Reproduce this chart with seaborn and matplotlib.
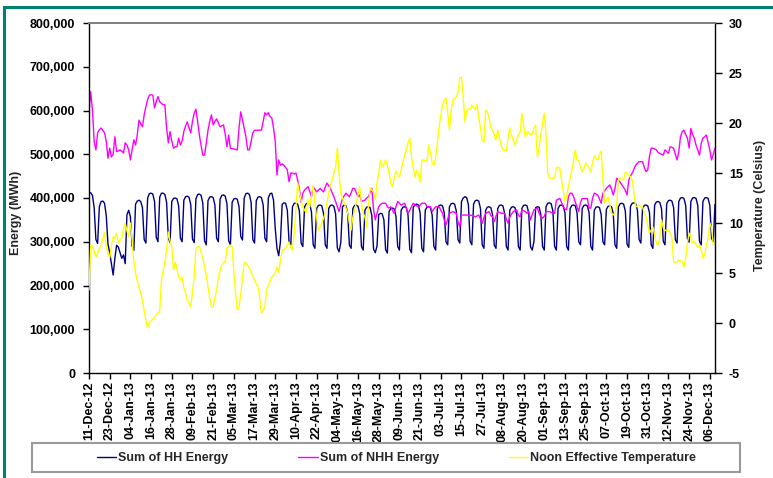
import numpy as np
import pandas as pd
import matplotlib
matplotlib.use("Agg")
import matplotlib.pyplot as plt
from matplotlib.patches import Rectangle
from matplotlib.lines import Line2D
from matplotlib.ticker import FuncFormatter, MultipleLocator
import seaborn as sns

# ---- daily data, 11-Dec-2012 onwards ----
start_date = "2012-12-11"

# Half-hourly metered energy, thousand MWh (rows are Mon..Sun weeks)
hh_energy_k = [
    413, 412, 406, 378, 305, 296,
    380, 392, 393, 388, 360, 295, 275,
    250, 224, 262, 292, 288, 275, 262,
    270, 250, 362, 372, 357, 290, 280,
    386, 393, 395, 392, 378, 305, 297,
    400, 410, 411, 409, 392, 310, 300,
    402, 411, 411, 408, 390, 308, 298,
    392, 399, 400, 398, 382, 308, 300,
    395, 403, 404, 402, 385, 306, 298,
    398, 408, 409, 406, 388, 302, 293,
    394, 402, 403, 401, 384, 308, 300,
    397, 406, 407, 404, 387, 302, 293,
    390, 398, 399, 397, 380, 312, 304,
    400, 410, 411, 408, 390, 305, 297,
    394, 402, 403, 401, 384, 308, 300,
    400, 410, 411, 395, 330, 285, 268,
    300, 385, 389, 388, 372, 300, 293,
    380, 388, 388, 386, 370, 297, 289,
    380, 387, 388, 386, 368, 293, 285,
    376, 383, 384, 382, 365, 293, 285,
    376, 383, 384, 381, 364, 286, 277,
    298, 380, 384, 382, 365, 292, 285,
    376, 383, 384, 381, 364, 289, 281,
    372, 379, 380, 378, 360, 283, 275,
    290, 362, 365, 364, 350, 282, 274,
    369, 376, 377, 375, 358, 289, 281,
    372, 379, 380, 378, 361, 283, 275,
    378, 385, 386, 384, 366, 285, 277,
    372, 379, 380, 378, 361, 289, 281,
    376, 383, 384, 382, 366, 300, 293,
    380, 387, 388, 386, 370, 305, 297,
    392, 400, 403, 401, 385, 301, 293,
    386, 394, 395, 393, 376, 293, 285,
    372, 379, 380, 378, 362, 292, 285,
    376, 383, 384, 382, 365, 289, 281,
    372, 379, 380, 378, 362, 289, 281,
    376, 383, 384, 382, 365, 289, 281,
    300, 378, 380, 379, 362, 289, 281,
    380, 388, 389, 387, 370, 289, 281,
    376, 383, 384, 382, 366, 289, 281,
    376, 383, 384, 382, 366, 300, 293,
    376, 383, 384, 382, 366, 289, 281,
    372, 379, 380, 378, 362, 300, 293,
    374, 381, 382, 380, 364, 293, 285,
    380, 387, 388, 386, 370, 295, 287,
    381, 388, 389, 387, 372, 305, 297,
    376, 383, 384, 382, 367, 293, 285,
    384, 391, 392, 390, 375, 301, 293,
    387, 394, 395, 393, 378, 305, 297,
    392, 400, 401, 399, 383, 307, 299,
    392, 400, 401, 399, 383, 301, 293,
    392, 400, 401, 399, 383, 308, 300,
    385,
]

# Non-half-hourly energy, thousand MWh
nhh_energy_k = [
    597, 643, 600, 529, 510, 549, 556, 560, 555, 549,
    530, 491, 514, 494, 500, 540, 506, 508, 510, 507,
    503, 526, 521, 510, 487, 510, 533, 521, 545, 578,
    570, 563, 590, 609, 625, 635, 636, 635, 606, 620,
    632, 620, 616, 613, 613, 560, 526, 552, 530, 514,
    517, 517, 537, 521, 530, 552, 565, 574, 560, 549,
    575, 594, 603, 575, 544, 520, 498, 498, 525, 555,
    575, 590, 567, 575, 581, 572, 563, 565, 567, 545,
    517, 544, 514, 513, 512, 511, 510, 560, 597, 578,
    560, 540, 510, 510, 530, 549, 555, 555, 555, 555,
    555, 575, 595, 590, 595, 586, 583, 560, 529, 453,
    487, 475, 478, 475, 470, 464, 437, 457, 457, 455,
    457, 441, 420, 390, 411, 418, 422, 426, 415, 403,
    426, 420, 414, 418, 422, 418, 414, 425, 434, 428,
    422, 412, 403, 392, 380, 369, 385, 399, 405, 411,
    407, 403, 412, 422, 422, 412, 403, 407, 392, 394,
    395, 400, 403, 412, 422, 373, 350, 365, 380, 385,
    388, 388, 388, 380, 377, 380, 372, 365, 380, 392,
    388, 384, 386, 388, 377, 365, 372, 380, 388, 384,
    382, 380, 384, 388, 388, 388, 380, 380, 380, 369,
    375, 380, 380, 380, 372, 365, 350, 338, 352, 365,
    367, 369, 367, 365, 345, 334, 361, 361, 361, 361,
    361, 361, 360, 359, 357, 359, 361, 352, 342, 355,
    365, 367, 369, 360, 357, 346, 358, 369, 367, 365,
    365, 365, 352, 342, 357, 363, 369, 371, 373, 360,
    357, 373, 371, 369, 365, 369, 350, 362, 373, 375,
    377, 365, 357, 354, 358, 369, 369, 369, 367, 365,
    365, 395, 397, 399, 390, 380, 375, 373, 403, 411,
    411, 403, 390, 380, 369, 390, 399, 399, 399, 399,
    377, 377, 400, 411, 409, 407, 398, 388, 411, 416,
    422, 426, 430, 420, 407, 422, 445, 441, 436, 430,
    424, 418, 407, 441, 450, 457, 466, 475, 479, 483,
    483, 483, 470, 460, 464, 495, 514, 514, 512, 510,
    504, 502, 500, 498, 510, 506, 502, 517, 516, 514,
    500, 487, 506, 540, 552, 555, 545, 537, 514, 559,
    545, 537, 521, 510, 498, 525, 537, 540, 544, 527,
    510, 487, 500, 514,
]

# Noon effective temperature, degrees Celsius
noon_temp_c = [
    3.3, 7.8, 7.7, 7.2, 6.6, 7.0, 7.4, 7.8, 8.4, 9.1,
    7.6, 7.0, 6.5, 7.8, 8.6, 8.5, 9.0, 8.0, 8.3, 8.5,
    9.4, 10.0, 9.2, 8.6, 10.0, 8.3, 6.2, 5.0, 4.2, 3.6,
    3.0, 2.3, 1.2, 0.3, -0.5, 0.1, 0.2, 0.4, 0.5, 0.8,
    1.0, 1.2, 4.3, 5.2, 6.1, 7.3, 9.1, 8.2, 7.6, 5.3,
    6.1, 5.4, 4.6, 4.3, 4.6, 3.5, 3.0, 2.3, 2.0, 1.6,
    3.0, 4.6, 7.5, 7.6, 7.7, 7.0, 6.5, 5.6, 4.8, 3.6,
    2.5, 1.6, 1.6, 2.5, 3.3, 4.6, 5.2, 5.8, 6.0, 6.1,
    7.5, 7.6, 7.8, 7.6, 5.0, 3.0, 1.3, 1.6, 2.9, 4.5,
    6.1, 6.0, 5.8, 5.5, 5.1, 4.7, 4.3, 3.9, 3.6, 2.5,
    1.0, 1.3, 1.6, 3.3, 3.8, 4.2, 4.6, 4.8, 5.0, 5.6,
    5.1, 6.2, 7.3, 7.3, 7.5, 7.8, 8.1, 7.5, 7.3, 9.0,
    11.5, 14.0, 13.0, 12.3, 11.6, 11.3, 11.0, 12.3, 11.6, 12.8,
    13.8, 12.0, 10.5, 9.3, 9.6, 10.0, 10.5, 11.0, 12.0, 13.0,
    13.8, 14.3, 15.0, 15.6, 17.5, 15.0, 13.0, 12.5, 12.0, 11.5,
    11.0, 10.0, 9.3, 10.6, 11.3, 12.0, 12.8, 13.6, 12.0, 11.0,
    10.6, 9.5, 11.6, 13.5, 13.3, 13.1, 12.3, 14.0, 14.9, 16.3,
    15.6, 15.9, 16.3, 15.8, 15.0, 14.0, 13.6, 14.5, 15.2, 14.8,
    14.6, 15.3, 16.0, 16.8, 17.3, 18.0, 18.5, 16.6, 15.5, 14.6,
    15.3, 14.8, 14.1, 16.3, 16.3, 16.2, 16.2, 17.8, 17.0, 16.0,
    15.8, 16.5, 18.0, 19.6, 20.8, 21.8, 22.3, 22.5, 21.0, 19.3,
    21.3, 22.3, 22.5, 22.6, 23.1, 24.5, 24.6, 22.6, 20.1, 21.3,
    21.4, 21.4, 21.8, 21.5, 21.3, 21.9, 20.5, 19.5, 18.3, 18.1,
    21.3, 21.1, 20.5, 19.6, 19.3, 18.8, 18.3, 19.3, 18.5, 17.8,
    17.3, 17.3, 17.2, 18.5, 19.5, 18.8, 18.3, 17.8, 18.3, 18.8,
    19.1, 21.0, 19.8, 18.6, 19.1, 19.1, 18.8, 18.9, 19.5, 19.8,
    16.6, 17.5, 18.8, 20.0, 21.0, 18.9, 15.0, 14.5, 14.5, 14.5,
    14.5, 15.5, 15.6, 15.5, 14.3, 13.2, 12.1, 12.8, 13.6, 14.5,
    15.3, 16.3, 17.3, 16.3, 16.2, 15.6, 15.1, 15.5, 16.0, 15.8,
    15.5, 15.1, 16.0, 16.7, 16.5, 16.3, 16.8, 17.2, 14.3, 12.0,
    12.3, 12.6, 11.8, 11.0, 10.8, 11.0, 11.8, 14.3, 14.5, 14.4,
    14.3, 15.1, 15.0, 14.8, 14.6, 14.3, 13.0, 11.6, 11.7, 11.8,
    11.7, 11.6, 11.0, 10.6, 9.8, 9.0, 9.3, 9.6, 8.8, 8.0,
    7.8, 8.5, 10.3, 9.5, 9.3, 9.2, 9.3, 9.0, 8.6, 6.1,
    6.1, 6.1, 6.3, 6.2, 6.1, 5.6, 6.5, 8.0, 9.0, 8.5,
    8.0, 8.2, 7.9, 7.6, 7.8, 7.3, 6.5, 6.8, 7.8, 8.5,
    10.0, 9.5, 7.8, 8.1,
]

series_labels = ["Sum of HH Energy", "Sum of NHH Energy", "Noon Effective Temperature"]
series_colors = ["#000080", "#FF00FF", "#FFFF00"]
tick_every_days = 12

# ---- styling ----
sns.set_theme(style="white")
plt.rcParams["font.family"] = ["Liberation Sans", "DejaVu Sans"]
plt.rcParams["font.weight"] = "bold"

dates = pd.date_range(start_date, periods=len(hh_energy_k), freq="D")
df = pd.DataFrame({
    "date": dates,
    "hh": np.asarray(hh_energy_k, dtype=float) * 1000,
    "nhh": np.asarray(nhh_energy_k, dtype=float) * 1000,
    "temp": np.asarray(noon_temp_c, dtype=float),
})

W, H = 773, 478
fig = plt.figure(figsize=(W / 100, H / 100), dpi=100)
fig.patch.set_facecolor("white")

L, R, T, B = 89, 715, 23, 373
ax = fig.add_axes([L / W, 1 - B / H, (R - L) / W, (B - T) / H])
ax2 = ax.twinx()

sns.lineplot(data=df, x="date", y="hh", ax=ax, color=series_colors[0], lw=1.0, legend=False)
sns.lineplot(data=df, x="date", y="nhh", ax=ax, color=series_colors[1], lw=1.0, legend=False)
sns.lineplot(data=df, x="date", y="temp", ax=ax2, color=series_colors[2], lw=1.0, legend=False)

# axes ranges
ax.set_xlim(dates[0], dates[-1])
ax.set_ylim(0, 800000)
ax2.set_ylim(-5, 30)
ax.yaxis.set_major_locator(MultipleLocator(100000))
ax.yaxis.set_major_formatter(FuncFormatter(lambda v, p: f"{int(round(v)):,}"))
ax2.yaxis.set_major_locator(MultipleLocator(5))
ax2.yaxis.set_major_formatter(FuncFormatter(lambda v, p: f"{int(round(v))}"))

tick_dates = dates[::tick_every_days]
ax.set_xticks(tick_dates)
ax.set_xticklabels([d.strftime("%d-%b-%y") for d in tick_dates], rotation=90,
                   fontsize=9, fontweight="bold")

ax.set_xlabel("")
ax.set_ylabel("")
ax2.set_ylabel("")
ax.grid(False)
ax2.grid(False)

ax.tick_params(axis="x", which="both", bottom=True, direction="out", length=4, width=1,
               pad=2, colors="black")
ax.tick_params(axis="y", left=True, direction="out", length=4, width=1, pad=6,
               labelsize=9, colors="black")
ax2.tick_params(axis="y", right=True, direction="out", length=5, width=1, pad=5,
                labelsize=9, colors="black")
for lab in ax.get_yticklabels() + ax2.get_yticklabels():
    lab.set_fontweight("bold")

for a in (ax, ax2):
    for side in ("left", "bottom", "right"):
        a.spines[side].set_color("black")
        a.spines[side].set_linewidth(1.0)
    a.spines["top"].set_color("#808080")
    a.spines["top"].set_linewidth(1.3)
ax.spines["right"].set_visible(False)
ax2.spines["left"].set_visible(False)
ax2.spines["bottom"].set_visible(False)

# axis titles
fig.text(16 / W, 1 - 213 / H, "Energy (MWh)", rotation=90, ha="center", va="center",
         fontsize=9, fontweight="bold")
fig.text(760 / W, 1 - 205 / H, "Temperature (Celsius)", rotation=90, ha="center",
         va="center", fontsize=9, fontweight="bold")

# legend
handles = [Line2D([], [], color=c, lw=1.0) for c in series_colors]
fig.legend(handles, series_labels, loc="center left",
           bbox_to_anchor=(97 / W, 1 - 458 / H), ncol=3, frameon=False,
           handlelength=1.55, handletextpad=0.15, columnspacing=5.6,
           borderpad=0, borderaxespad=0, prop={"weight": "bold", "size": 9})
fig.patches.append(Rectangle((32 / W, 1 - 472 / H), (740 - 32) / W, (472 - 443) / H,
                             transform=fig.transFigure, fill=False,
                             edgecolor="#9a9a9a", lw=1.5))

# outer frame
fig.patches.append(Rectangle((4 / W, -0.05), 1.2, 1.05 - 7 / H,
                             transform=fig.transFigure, fill=False,
                             edgecolor="#00806f", lw=2.2))

fig.savefig("out.png", dpi=100, facecolor="white")
